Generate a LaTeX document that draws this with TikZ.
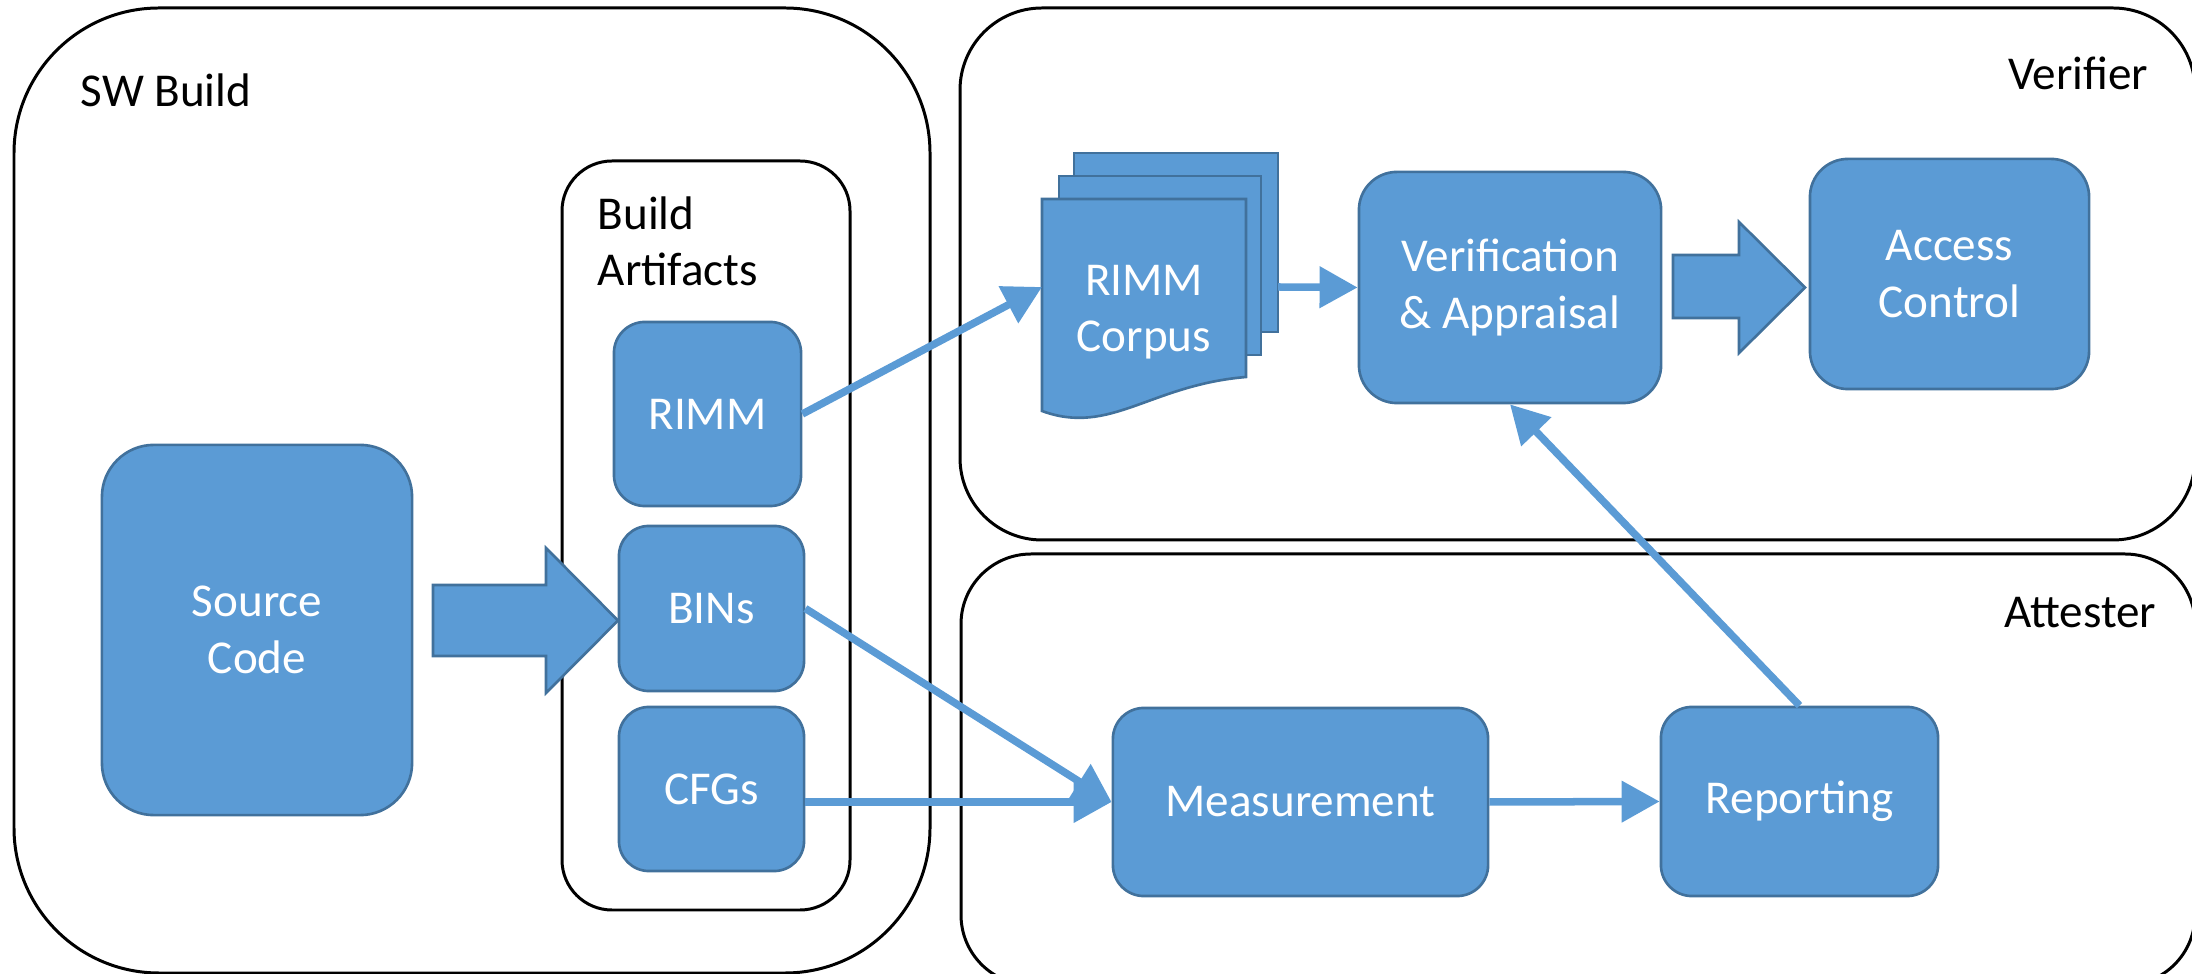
\documentclass[tikz,border=0pt]{standalone}
\usepackage{fontspec}
\setmainfont{Carlito}
\usetikzlibrary{arrows.meta}
\definecolor{blu}{HTML}{5B9BD5}
\definecolor{bdr}{HTML}{41719C}
\newcommand\lblfont{\fontsize{13.4}{16}\selectfont}
\begin{document}
\begin{tikzpicture}[x=0.01cm,y=-0.01cm,
  cont/.style={draw=black,line width=0.85pt},
  bluebox/.style={draw=bdr,fill=blu,text=white,line width=0.75pt,align=center,inner sep=0pt,font=\lblfont},
  docshape/.style={draw=bdr,fill=blu,line width=0.75pt},
  blockarrow/.style={draw=bdr,fill=blu,line width=0.75pt},
  conn/.style={draw=blu,line width=0.075cm,-{Triangle[length=0.38cm,width=0.40cm]}},
  lbl/.style={inner sep=0pt,font=\lblfont,text=black}]
\useasboundingbox (0,0) rectangle (2192,974);
\clip (0,0) rectangle (2192,974);
% containers
\draw[cont,rounded corners=1.45cm] (14,8) rectangle (930,973);
\draw[cont,rounded corners=0.50cm] (562,161) rectangle (850,910);
\draw[cont,rounded corners=0.82cm] (960,8) rectangle (2195,540);
\draw[cont,rounded corners=0.70cm] (961,554) rectangle (2195,985);
% container labels
\node[lbl,anchor=base west] (swl) at (80,107) {SW Build};
\node[lbl,anchor=west,align=left] (bal) at (597,241) {Build\\Artifacts};
\node[lbl,anchor=base east] (verl) at (2149,90) {Verifier};
\node[lbl,anchor=base east] (attl) at (2157,628) {Attester};
% boxes
\node[bluebox,minimum width=3.10cm,minimum height=3.70cm,rounded corners=0.52cm] (src) at (257,630) {Source\\Code};
\node[bluebox,minimum width=1.87cm,minimum height=1.84cm,rounded corners=0.31cm] (rimm) at (707.5,414) {RIMM};
\node[bluebox,minimum width=1.85cm,minimum height=1.65cm,rounded corners=0.30cm] (bins) at (711.5,608.5) {BINs};
\node[bluebox,minimum width=1.85cm,minimum height=1.64cm,rounded corners=0.30cm] (cfgs) at (711.5,789) {CFGs};
\node[bluebox,minimum width=3.02cm,minimum height=2.31cm,rounded corners=0.38cm] (va) at (1510,287.5) {Verification\\\& Appraisal};
\node[bluebox,minimum width=2.79cm,minimum height=2.30cm,rounded corners=0.38cm] (ac) at (1949.5,274) {Access\\Control};
\node[bluebox,minimum width=3.75cm,minimum height=1.88cm,rounded corners=0.31cm] (meas) at (1300.5,802) {Measurement};
\node[bluebox,minimum width=2.77cm,minimum height=1.89cm,rounded corners=0.31cm] (rep) at (1799.5,801.5) {Reporting};
% document stack
\draw[docshape] (1074,153) rectangle (1278,332);
\draw[docshape] (1059,176) rectangle (1261,355);
\draw[docshape] (1042,199) -- (1246,199) -- (1246,377) .. controls (1150,385) and (1110,436) .. (1042,411) -- cycle;
\node[bluebox,draw=none,fill=none] (corpus) at (1144,312) {RIMM\\Corpus};
\coordinate (cL) at (1042,287);
\coordinate (cR) at (1278,287);
% block arrows
\draw[blockarrow] (433,585) -- (546,585) -- (546,548) -- (618,620.5) -- (546,693) -- (546,656) -- (433,656) -- cycle;
\draw[blockarrow] (1673,255) -- (1739,255) -- (1739,222) -- (1805,287.5) -- (1739,353) -- (1739,318) -- (1673,318) -- cycle;
% connectors
\draw[conn] (rimm.east) -- (cL);
\draw[conn] (cR) -- (va.west);
\draw[conn] (bins.east) -- (meas.west);
\draw[conn] (cfgs.east |- meas.west) -- (meas.west);
\draw[conn] (meas.east) -- (rep.west);
\draw[conn] (rep.north) -- (va.south);
\end{tikzpicture}
\end{document}
